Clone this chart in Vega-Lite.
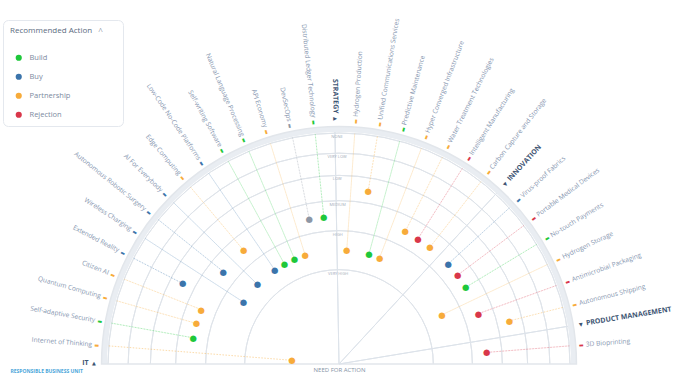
{
  "$schema": "https://vega.github.io/schema/vega-lite/v6.json",
  "width": 688,
  "height": 364,
  "autosize": {"type": "none"},
  "padding": {"left": 0, "top": 0, "right": 0, "bottom": 22},
  "background": "white",
  "config": {
    "view": {"stroke": null},
    "font": "Open Sans"
  },
  "datasets": {
    "items": [
      {"rank": 1, "item": "3D Bioprinting", "sector": "PRODUCT MANAGEMENT", "action": "Rejection", "need": 2.47},
      {"rank": 2, "item": "Autonomous Shipping", "sector": "INNOVATION", "action": "Partnership", "need": 3.48},
      {"rank": 3, "item": "Antimicrobial Packaging", "sector": "INNOVATION", "action": "Rejection", "need": 2.47},
      {"rank": 4, "item": "Hydrogen Storage", "sector": "INNOVATION", "action": "Partnership", "need": 1.46},
      {"rank": 5, "item": "No-touch Payments", "sector": "INNOVATION", "action": "Build", "need": 2.47},
      {"rank": 6, "item": "Portable Medical Devices", "sector": "INNOVATION", "action": "Rejection", "need": 2.47},
      {"rank": 7, "item": "Virus-proof Fabrics", "sector": "INNOVATION", "action": "Buy", "need": 2.47},
      {"rank": 8, "item": "Carbon Capture and Storage", "sector": "STRATEGY", "action": "Partnership", "need": 2.47},
      {"rank": 9, "item": "Intelligent Manufacturing", "sector": "STRATEGY", "action": "Rejection", "need": 2.47},
      {"rank": 10, "item": "Water Treatment Technologies", "sector": "STRATEGY", "action": "Partnership", "need": 2.47},
      {"rank": 11, "item": "Hyper Converged Infrastructure", "sector": "STRATEGY", "action": "Partnership", "need": 1.46},
      {"rank": 12, "item": "Predictive Maintenance", "sector": "STRATEGY", "action": "Build", "need": 1.46},
      {"rank": 13, "item": "Unified Communications Services", "sector": "STRATEGY", "action": "Partnership", "need": 3.48},
      {"rank": 14, "item": "Hydrogen Production", "sector": "STRATEGY", "action": "Partnership", "need": 1.46},
      {"rank": 15, "item": "Distributed Ledger Technology", "sector": "IT", "action": "Build", "need": 2.47},
      {"rank": 16, "item": "DevSecOps", "sector": "IT", "action": "Pending", "need": 2.47},
      {"rank": 17, "item": "API Economy", "sector": "IT", "action": "Partnership", "need": 1.46},
      {"rank": 18, "item": "Natural Language Processing", "sector": "IT", "action": "Build", "need": 1.46},
      {"rank": 19, "item": "Self-writing Software", "sector": "IT", "action": "Build", "need": 1.46},
      {"rank": 20, "item": "Low-Code No-Code Platforms", "sector": "IT", "action": "Buy", "need": 1.46},
      {"rank": 21, "item": "Edge Computing", "sector": "IT", "action": "Partnership", "need": 2.47},
      {"rank": 22, "item": "AI For Everybody", "sector": "IT", "action": "Buy", "need": 1.46},
      {"rank": 23, "item": "Autonomous Robotic Surgery", "sector": "IT", "action": "Buy", "need": 2.47},
      {"rank": 24, "item": "Wireless Charging", "sector": "IT", "action": "Buy", "need": 1.46},
      {"rank": 25, "item": "Extended Reality", "sector": "IT", "action": "Buy", "need": 3.48},
      {"rank": 26, "item": "Citizen AI", "sector": "IT", "action": "Partnership", "need": 2.47},
      {"rank": 27, "item": "Quantum Computing", "sector": "IT", "action": "Partnership", "need": 2.47},
      {"rank": 28, "item": "Self-adaptive Security", "sector": "IT", "action": "Build", "need": 2.47},
      {"rank": 29, "item": "Internet of Thinking", "sector": "IT", "action": "Partnership", "need": 0.25}
    ],
    "sectors": [
      {"sector": "PRODUCT MANAGEMENT", "rank": 1.5, "side": "right"},
      {"sector": "INNOVATION", "rank": 7.5, "side": "right"},
      {"sector": "STRATEGY", "rank": 14.5, "side": "left"},
      {"sector": "IT", "rank": 30, "side": "left"}
    ],
    "levels": [
      {"level": "VERY HIGH", "value": 1},
      {"level": "HIGH", "value": 2},
      {"level": "MEDIUM", "value": 3},
      {"level": "LOW", "value": 4},
      {"level": "VERY LOW", "value": 5},
      {"level": "NONE", "value": 6}
    ]
  },
  "encoding": {
    "x": {"datum": 0, "type": "quantitative", "scale": {"domain": [-339, 349], "nice": false, "zero": false},
      "axis": {"title": "NEED FOR ACTION", "labels": false, "ticks": false, "domain": false, "grid": false, "titleFontSize": 6, "titleFontWeight": "normal", "titleColor": "#8593a6", "titleX": 339, "titleY": 5, "titleAlign": "center", "titleBaseline": "middle", "titleFont": "Open Sans"}},
    "y": {"datum": 0, "type": "quantitative", "scale": {"domain": [0, 364], "nice": false, "zero": false},
      "axis": {"title": "RESPONSIBLE BUSINESS UNIT", "labels": false, "ticks": false, "domain": false, "grid": false, "titleAngle": 0, "titleX": 10, "titleY": 370, "titleAlign": "left", "titleBaseline": "middle", "titleFontSize": 5, "titleFontWeight": "bold", "titleColor": "#4aa6da", "titleFont": "Open Sans"}}
  },
  "layer": [
    {
      "data": {"name": "levels"},
      "transform": [{"filter": "datum.value == 6"}],
      "mark": {"type": "arc", "color": "#e9edf2"},
      "encoding": {
        "theta": {"datum": 0, "type": "quantitative", "scale": {"type": "linear", "domain": [0, 1, 2, 7, 8, 14, 15, 29, 30], "range": [1.5708, 1.4923, 1.323, 0.829, 0.6615, 0.0681, -0.103, -1.4923, -1.5708], "zero": false, "nice": false}},
        "theta2": {"datum": 30},
        "radius": {"datum": 6.05, "type": "quantitative", "scale": {"type": "sqrt", "domain": [0, 6], "range": [0, 231], "zero": true, "nice": false}},
        "radius2": {"datum": 6.34}
      }
    },
    {
      "data": {"name": "levels"},
      "mark": {"type": "arc", "filled": false, "stroke": "#dfe4ea", "strokeWidth": 1},
      "encoding": {
        "theta": {"datum": 0, "type": "quantitative"},
        "theta2": {"datum": 30},
        "radius": {"field": "value", "type": "quantitative"},
        "radius2": {"field": "value"}
      }
    },
    {
      "data": {"name": "levels"},
      "transform": [{"filter": "datum.value == 6"}],
      "mark": {"type": "arc", "filled": false, "stroke": "#e2e6eb", "strokeWidth": 1.5},
      "encoding": {
        "theta": {"datum": 0, "type": "quantitative"},
        "theta2": {"datum": 30},
        "radius": {"datum": 0, "type": "quantitative"},
        "radius2": {"datum": 6.34}
      }
    },
    {
      "data": {"name": "sectors"},
      "transform": [{"filter": "datum.rank < 30"}],
      "mark": {"type": "arc", "filled": false, "stroke": "#dde3ea", "strokeWidth": 1},
      "encoding": {
        "theta": {"field": "rank", "type": "quantitative", "stack": null},
        "theta2": {"field": "rank"},
        "radius": {"datum": 0, "type": "quantitative"},
        "radius2": {"datum": 6.05}
      }
    },
    {
      "data": {"name": "levels"},
      "mark": {"type": "text", "fontSize": 4, "fill": "#a3acb9", "dy": 4, "align": "center", "baseline": "middle"},
      "encoding": {
        "theta": {"datum": 14.45, "type": "quantitative"},
        "radius": {"field": "value", "type": "quantitative"},
        "text": {"field": "level"}
      }
    },
    {
      "data": {"name": "items"},
      "mark": {"type": "arc", "filled": false, "strokeWidth": 0.8, "opacity": 0.3, "strokeDash": [1.5, 1.5]},
      "encoding": {
        "theta": {"field": "rank", "type": "quantitative", "stack": null},
        "theta2": {"field": "rank"},
        "radius": {"field": "need", "type": "quantitative"},
        "radius2": {"datum": 6},
        "stroke": {"field": "action", "type": "nominal", "legend": null,
          "scale": {"domain": ["Pending", "Build", "Buy", "Partnership", "Rejection"], "range": ["#8d97a5", "#1ec83a", "#3b74ab", "#f7ab3a", "#d9374a"]}}
      }
    },
    {
      "data": {"name": "items"},
      "mark": {"type": "text", "text": "●", "font": "DejaVu Sans", "fontSize": 8.5, "align": "center", "baseline": "middle"},
      "encoding": {
        "theta": {"field": "rank", "type": "quantitative"},
        "radius": {"field": "need", "type": "quantitative"},
        "color": {"field": "action", "type": "nominal",
          "scale": {"domain": ["Build", "Buy", "Partnership", "Rejection", "Pending"], "range": ["#1ec83a", "#3b74ab", "#f7ab3a", "#d9374a", "#8d97a5"]},
          "legend": {
            "title": "Recommended Action\u00a0\u00a0\u00a0˄\u00a0\u00a0\u00a0\u2800",
            "values": ["Build", "Buy", "Partnership", "Rejection"],
            "orient": "none",
            "legendX": 3,
            "legendY": 20,
            "fillColor": "white",
            "strokeColor": "#e4e8ee",
            "cornerRadius": 5,
            "padding": 7,
            "titleFont": "Open Sans",
            "titleFontSize": 8,
            "titleColor": "#5b6b80",
            "titleFontWeight": "normal",
            "titlePadding": 19,
            "labelFont": "Open Sans",
            "labelFontSize": 7.5,
            "labelColor": "#7c8aa0",
            "rowPadding": 10,
            "symbolType": "circle",
            "symbolSize": 38,
            "symbolStrokeWidth": 0,
            "symbolOffset": 5,
            "labelOffset": 7
          }}
      }
    },
    {
      "data": {"name": "items"},
      "mark": {"type": "text", "text": "▬", "font": "DejaVu Sans", "fontSize": 5, "align": "center", "baseline": "middle"},
      "encoding": {
        "theta": {"field": "rank", "type": "quantitative"},
        "radius": {"datum": 6.64, "type": "quantitative"},
        "angle": {"field": "rank", "type": "quantitative", "legend": null, "scale": {"type": "linear", "domain": [0, 1, 2, 7, 8, 14, 14.45, 14.5, 15, 29, 30], "range": [0, -4.5, -14.2, -42.5, -52.1, -86.1, -88.6, 89, 84.1, 4.5, 0], "zero": false, "nice": false}},
        "color": {"field": "action", "type": "nominal"}
      }
    },
    {
      "data": {"name": "items"},
      "transform": [{"filter": "datum.rank <= 14"}],
      "mark": {"type": "text", "align": "left", "baseline": "middle", "fontSize": 6.6, "fill": "#8696af"},
      "encoding": {
        "theta": {"field": "rank", "type": "quantitative"},
        "radius": {"datum": 6.9, "type": "quantitative"},
        "angle": {"field": "rank", "type": "quantitative", "legend": null},
        "text": {"field": "item"}
      }
    },
    {
      "data": {"name": "items"},
      "transform": [{"filter": "datum.rank >= 15"}],
      "mark": {"type": "text", "align": "right", "baseline": "middle", "fontSize": 6.6, "fill": "#8696af"},
      "encoding": {
        "theta": {"field": "rank", "type": "quantitative"},
        "radius": {"datum": 6.9, "type": "quantitative"},
        "angle": {"field": "rank", "type": "quantitative", "legend": null},
        "text": {"field": "item"}
      }
    },
    {
      "data": {"name": "sectors"},
      "transform": [{"filter": "datum.side == 'right'"}],
      "mark": {"type": "text", "align": "left", "baseline": "middle", "fontSize": 7, "fontWeight": "bold", "fill": "#3e5573"},
      "encoding": {
        "theta": {"field": "rank", "type": "quantitative"},
        "radius": {"datum": 7.05, "type": "quantitative"},
        "angle": {"field": "rank", "type": "quantitative", "legend": null},
        "text": {"field": "sector"}
      }
    },
    {
      "data": {"name": "sectors"},
      "transform": [{"filter": "datum.side == 'left'"}],
      "mark": {"type": "text", "align": "right", "baseline": "middle", "fontSize": 7, "fontWeight": "bold", "fill": "#3e5573", "dy": -1},
      "encoding": {
        "theta": {"field": "rank", "type": "quantitative"},
        "radius": {"datum": 7.05, "type": "quantitative"},
        "angle": {"field": "rank", "type": "quantitative", "legend": null},
        "text": {"field": "sector"}
      }
    },
    {
      "data": {"name": "sectors"},
      "transform": [{"filter": "datum.side == 'right'"}],
      "mark": {"type": "text", "text": "▼", "font": "DejaVu Sans", "align": "center", "baseline": "middle", "fontSize": 5, "fill": "#3e5573"},
      "encoding": {
        "theta": {"field": "rank", "type": "quantitative"},
        "radius": {"datum": 6.75, "type": "quantitative"},
        "angle": {"field": "rank", "type": "quantitative", "legend": null}
      }
    },
    {
      "data": {"name": "sectors"},
      "transform": [{"filter": "datum.side == 'left'"}],
      "mark": {"type": "text", "text": "▲", "font": "DejaVu Sans", "align": "center", "baseline": "middle", "fontSize": 5, "fill": "#3e5573", "dy": -1},
      "encoding": {
        "theta": {"field": "rank", "type": "quantitative"},
        "radius": {"datum": 6.75, "type": "quantitative"},
        "angle": {"field": "rank", "type": "quantitative", "legend": null}
      }
    }
  ]
}
